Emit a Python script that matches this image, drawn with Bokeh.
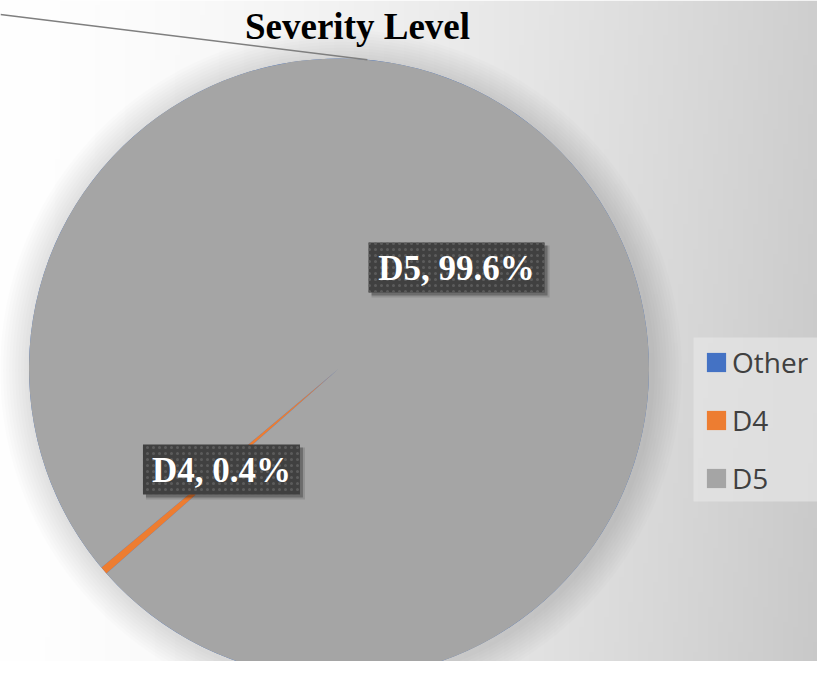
import numpy as np
from bokeh.plotting import figure
from bokeh.models import Range1d, ColumnDataSource, Legend, LegendItem
from bokeh.core.properties import value
from bokeh.embed import file_html
from bokeh.resources import INLINE

# ---------------- data ----------------
title_text = "Severity Level"
categories = ["Other", "D4", "D5"]
shares = [0.0, 0.4, 99.6]          # percent
colors = ["#4472C4", "#ED7D31", "#A5A5A5"]
first_slice_angle = 228.6          # degrees, clockwise from 12 o'clock
other_leader_angle = 5.25          # degrees, where the "Other" leader line meets the pie

# ---------------- geometry (reference pixels, y up) ----------------
IMG_W, IMG_H = 833, 677
W, H = 817, 661
def sy(y):
    return IMG_H - y

cx, cy = 338.5, sy(368)
R = 310

p = figure(width=W, height=H, x_range=Range1d(0, W), y_range=Range1d(IMG_H - H, IMG_H),
           output_backend="svg", toolbar_location=None, min_border=0)
p.axis.visible = False
p.grid.visible = False
p.outline_line_color = None
p.border_fill_color = "white"
p.background_fill_color = "white"

# background gradient
nx, ny = 167, 136
xs = (np.arange(nx) + 0.5) / nx
ys = (np.arange(ny) + 0.5) / ny
v = 255 - 50 * (xs[None, :] ** 1.5) - 6 * (1 - ys[:, None]) * xs[None, :]
img = np.empty((ny, nx), dtype=np.uint32)
view = img.view(dtype=np.uint8).reshape((ny, nx, 4))
vv = np.clip(v, 0, 255).astype(np.uint8)
view[..., 0] = vv
view[..., 1] = vv
view[..., 2] = vv
view[..., 3] = 255
p.image_rgba(image=[img], x=0, y=0, dw=IMG_W, dh=IMG_H)

# soft shadow around the pie
for k in range(10):
    p.circle(x=[cx + 2], y=[cy - 2], radius=R + 4 + 3 * k, fill_color="black", fill_alpha=0.013, line_color=None)

# wedges
total = sum(shares)
c0 = []
c1 = []
acc = first_slice_angle
for s in shares:
    c0.append(acc)
    acc += s / total * 360.0
    c1.append(acc)
start = [np.radians(90 - b) for b in c1]
end = [np.radians(90 - a) for a in c0]
src = ColumnDataSource(dict(x=[cx] * 3, y=[cy] * 3, start=start, end=end, color=colors, cat=categories))
wr = p.wedge(x="x", y="y", radius=R, start_angle="start", end_angle="end", direction="anticlock",
             fill_color="color", line_color=None, source=src)

# leader line for "Other"
la = np.radians(other_leader_angle)
lx1, ly1 = cx + R * np.sin(la), cy + R * np.cos(la)
p.line(x=[0, lx1], y=[sy(14), ly1], line_color="#7f7f7f", line_width=1.5)

# data labels at half radius along bisectors
lab_txt, lab_x, lab_y, lab_w = [], [], [], []
for cat, s, a, b in zip(categories, shares, c0, c1):
    if s <= 0:
        continue
    mid = np.radians((a + b) / 2)
    lab_txt.append(f"{cat}, {s:.1f}%")
    lab_x.append(cx + 0.5 * R * np.sin(mid))
    lab_y.append(cy + 0.5 * R * np.cos(mid))
    lab_w.append(176 if len(f"{s:.1f}") > 3 else 157)
lab_h = 50
p.rect(x=[x + 4 for x in lab_x], y=[y - 4 for y in lab_y], width=[w + 2 for w in lab_w], height=lab_h + 2,
       fill_color="black", fill_alpha=0.12, line_color=None)
p.rect(x=[x + 3 for x in lab_x], y=[y - 3 for y in lab_y], width=lab_w, height=lab_h,
       fill_color="black", fill_alpha=0.25, line_color=None)
p.rect(x=lab_x, y=lab_y, width=lab_w, height=lab_h, fill_color="#404040", line_color=None,
       hatch_pattern="dot", hatch_color="#5e5e5e", hatch_scale=6, hatch_weight=1, hatch_alpha=0.9)
p.text(x=lab_x, y=[y - 1 for y in lab_y], text=lab_txt, text_color="white", text_font=value("Liberation Serif"),
       text_font_style="bold", text_font_size="35px", text_align="center", text_baseline="middle")

# title
p.text(x=[357], y=[sy(26)], text=[title_text], text_color="black", text_font=value("Liberation Serif"),
       text_font_style="bold", text_font_size="37px", text_align="center", text_baseline="middle")

# legend box background
p.quad(left=693, right=820, top=sy(337), bottom=sy(501), fill_color="#e6e6e6", fill_alpha=0.7, line_color=None)

# legend
items = [LegendItem(label=c, renderers=[wr], index=i) for i, c in enumerate(categories)]
legend = Legend(items=items, location=(704, 164), orientation="vertical")
legend.label_text_font = "Open Sans"
legend.label_text_font_size = "28px"
legend.label_text_color = "#404040"
legend.glyph_width = 24
legend.glyph_height = 24
legend.label_height = 30
legend.label_standoff = 4
legend.spacing = 20
legend.padding = 8
legend.margin = 0
legend.background_fill_alpha = 0
legend.border_line_color = None
p.add_layout(legend)

open("out.html", "w").write(file_html(p, INLINE))
